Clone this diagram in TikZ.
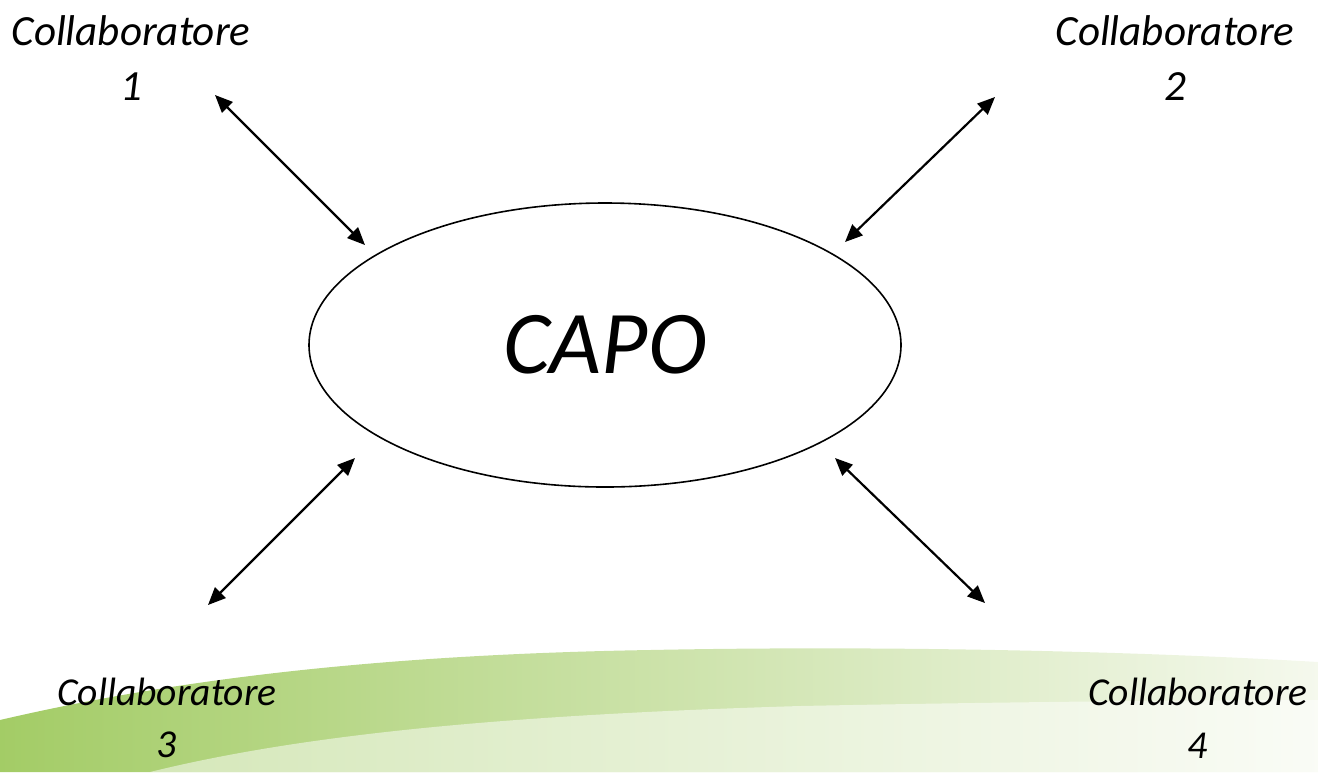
\documentclass[tikz,border=0pt]{standalone}
\usepackage{fontspec}
\setmainfont{Carlito}
\usetikzlibrary{arrows.meta,shapes.geometric}
\newlength{\du}
\setlength{\du}{0.02cm}
\definecolor{swooshdark}{rgb}{0.640000, 0.800000, 0.400000}
\definecolor{swooshmid}{rgb}{0.840000, 0.920000, 0.720000}
\definecolor{swooshpale}{rgb}{0.960000, 0.975000, 0.930000}

\begin{document}
\begin{tikzpicture}[
  collab/.style={align=center,inner sep=0pt,font=\fontsize{24.5pt}{31.7pt}\selectfont\itshape},
  collablow/.style={collab,font=\fontsize{22.5pt}{30pt}\selectfont\itshape},
  capobox/.style={draw,ellipse,inner sep=0pt,line width=1.6\du,minimum width=592\du,minimum height=284\du,font=\fontsize{51pt}{55pt}\selectfont\itshape},
  link/.style={line width=2.2\du,{Triangle[length=10pt,width=8.5pt]}-{Triangle[length=10pt,width=8.5pt]}}
]
\useasboundingbox (0\du,0\du) rectangle (1318\du,-772\du);
% background swoosh
\shade[left color=swooshdark,middle color=swooshmid,right color=swooshpale] (0\du,-720\du) .. controls (150\du,-685\du) and (350\du,-655\du) .. (650\du,-650\du) .. controls (900\du,-645\du) and (1150\du,-652\du) .. (1318\du,-662\du) -- (1318\du,-772\du) -- (0\du,-772\du) -- cycle;
\fill[white,opacity=0.5] (150\du,-772\du) .. controls (300\du,-735\du) and (500\du,-715\du) .. (800\du,-706\du) .. controls (1000\du,-702\du) and (1200\du,-700\du) .. (1318\du,-700\du) -- (1318\du,-772\du) -- cycle;
\definecolor{dialinecolor}{rgb}{0.000000, 0.000000, 0.000000}
\pgfsetstrokecolor{dialinecolor}
% setfont left to latex
\node[capobox] (capo) at (605\du,-345\du){CAPO};
\node[collab] (collab1) at (131\du,-58\du){Collaboratore\\1};
\node[collab] (collab2) at (1175\du,-58\du){Collaboratore\\2};
\node[collablow] (collab3) at (167\du,-718\du){Collaboratore\\3};
\node[collablow] (collab4) at (1198\du,-718\du){Collaboratore\\4};
% arrow ends
\coordinate (out1) at (215\du,-95\du);
\coordinate (in1) at (365\du,-245\du);
\coordinate (out2) at (995\du,-97\du);
\coordinate (in2) at (845\du,-242\du);
\coordinate (out3) at (208\du,-605\du);
\coordinate (in3) at (355\du,-458\du);
\coordinate (out4) at (985\du,-603\du);
\coordinate (in4) at (835\du,-458\du);
\draw[link] (out1)--(in1);
\draw[link] (out2)--(in2);
\draw[link] (out3)--(in3);
\draw[link] (out4)--(in4);
\end{tikzpicture}
\end{document}
